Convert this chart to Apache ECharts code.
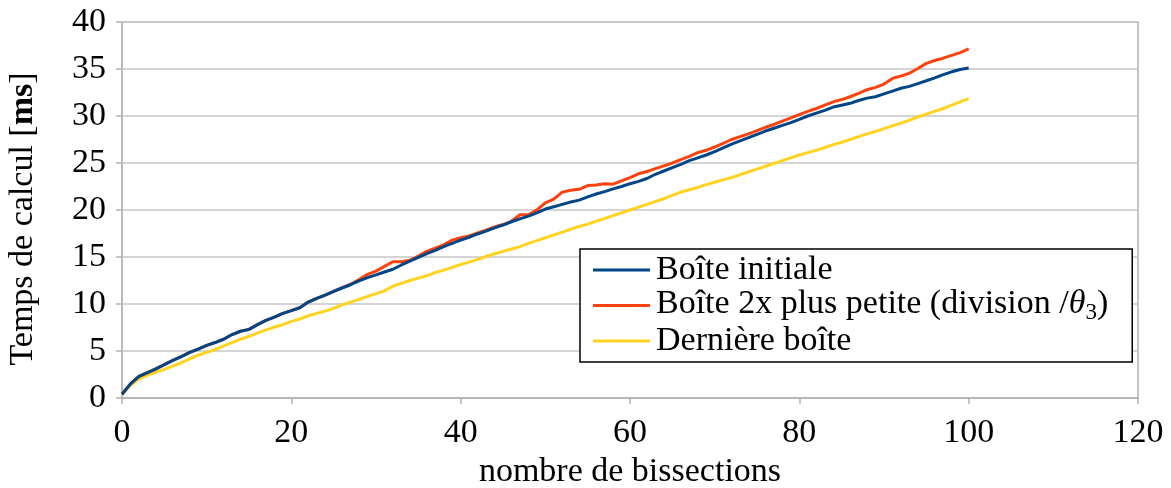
<!DOCTYPE html>
<html>
<head>
<meta charset="utf-8">
<script src="https://cdn.jsdelivr.net/npm/echarts@6/dist/echarts.min.js"></script>
<style>
  html, body { margin: 0; padding: 0; background: #fff; }
  #chart { width: 1171px; height: 488px; }
</style>
</head>
<body>
<div id="chart"></div>
<script>
// Number of bisections (0 .. 100)
const bissections = Array.from({ length: 101 }, (_, i) => i);

// Computation time in ms for each strategy
const boiteInitiale = [
  0.4, 1.5, 2.3, 2.7, 3.1, 3.55, 4.0, 4.4, 4.85, 5.2,
  5.6, 5.9, 6.25, 6.75, 7.1, 7.3, 7.8, 8.25, 8.6, 9.0,
  9.3, 9.6, 10.2, 10.6, 10.95, 11.35, 11.7, 12.05, 12.45, 12.8,
  13.1, 13.4, 13.7, 14.15, 14.55, 14.95, 15.35, 15.7, 16.1, 16.45,
  16.8, 17.1, 17.45, 17.75, 18.1, 18.4, 18.75, 19.05, 19.35, 19.7,
  20.1, 20.35, 20.6, 20.85, 21.05, 21.4, 21.7, 21.95, 22.25, 22.5,
  22.8, 23.05, 23.35, 23.8, 24.15, 24.5, 24.85, 25.25, 25.55, 25.85,
  26.2, 26.6, 27.0, 27.35, 27.7, 28.05, 28.4, 28.7, 29.0, 29.3,
  29.65, 30.0, 30.3, 30.6, 30.95, 31.15, 31.35, 31.65, 31.9, 32.05,
  32.35, 32.65, 32.95, 33.15, 33.45, 33.75, 34.05, 34.4, 34.7, 34.95,
  35.1
];
const boiteDeuxFoisPlusPetite = [
  0.4, 1.5, 2.3, 2.7, 3.1, 3.55, 4.0, 4.4, 4.85, 5.2,
  5.6, 5.9, 6.25, 6.75, 7.1, 7.3, 7.8, 8.25, 8.6, 9.0,
  9.3, 9.6, 10.2, 10.6, 10.95, 11.35, 11.75, 12.1, 12.6, 13.15,
  13.5, 14.0, 14.5, 14.5, 14.65, 15.1, 15.6, 15.95, 16.3, 16.8,
  17.05, 17.25, 17.55, 17.85, 18.2, 18.45, 18.8, 19.5, 19.5, 20.0,
  20.75, 21.15, 21.9, 22.1, 22.2, 22.6, 22.65, 22.8, 22.75, 23.1,
  23.45, 23.85, 24.1, 24.4, 24.7, 25.0, 25.35, 25.7, 26.1, 26.35,
  26.7, 27.1, 27.5, 27.8, 28.1, 28.45, 28.8, 29.1, 29.45, 29.8,
  30.15, 30.5, 30.8, 31.15, 31.5, 31.75, 32.05, 32.4, 32.8, 33.05,
  33.4, 34.0, 34.25, 34.55, 35.05, 35.6, 35.9, 36.15, 36.45, 36.75,
  37.15
];
const derniereBoite = [
  0.4, 1.35, 2.05, 2.4, 2.75, 3.05, 3.4, 3.75, 4.15, 4.55,
  4.85, 5.15, 5.55, 5.9, 6.25, 6.55, 6.9, 7.25, 7.55, 7.8,
  8.15, 8.4, 8.75, 9.0, 9.25, 9.55, 9.9, 10.2, 10.5, 10.8,
  11.1, 11.4, 11.9, 12.2, 12.5, 12.75, 13.0, 13.35, 13.6, 13.9,
  14.2, 14.45, 14.75, 15.05, 15.35, 15.6, 15.85, 16.1, 16.45, 16.75,
  17.05, 17.35, 17.65, 17.95, 18.25, 18.5, 18.8, 19.1, 19.4, 19.7,
  20.0, 20.3, 20.6, 20.9, 21.2, 21.55, 21.9, 22.15, 22.4, 22.7,
  22.95, 23.2, 23.45, 23.75, 24.05, 24.35, 24.65, 24.95, 25.25, 25.55,
  25.85, 26.1, 26.35, 26.65, 26.95, 27.2, 27.5, 27.8, 28.1, 28.35,
  28.65, 28.95, 29.25, 29.55, 29.9, 30.2, 30.5, 30.8, 31.15, 31.5,
  31.85
];

const seriesNames = ['Boîte initiale', 'Boîte 2x plus petite (division /θ3)', 'Dernière boîte'];

const FONT = 'Liberation Serif';
const FS = 34;
const AXIS_GREY = '#b3b3b3';
const pairs = (ys) => bissections.map((x, i) => [x, ys[i]]);

const chart = echarts.init(document.getElementById('chart'), null, { renderer: 'canvas' });

const lineSeries = (name, ys, color, z) => ({
  name,
  type: 'line',
  data: pairs(ys),
  showSymbol: false,
  symbol: 'none',
  z,
  lineStyle: { color, width: 3 },
  itemStyle: { color },
  emphasis: { disabled: true },
  animation: false
});

chart.setOption({
  animation: false,
  textStyle: { fontFamily: FONT, color: '#000' },
  grid: {
    left: 122, right: 33, top: 22, bottom: 90,
    containLabel: false, outerBoundsMode: 'none',
    show: true, borderColor: AXIS_GREY, borderWidth: 1.5, backgroundColor: 'transparent'
  },
  xAxis: {
    type: 'value',
    min: 0, max: 120, interval: 20,
    name: 'nombre de bissections',
    nameLocation: 'middle',
    nameGap: 52,
    nameTextStyle: { fontFamily: FONT, fontSize: FS, color: '#000' },
    axisLine: { show: true, lineStyle: { color: AXIS_GREY, width: 1.5 } },
    axisTick: { show: true, length: 6, lineStyle: { color: AXIS_GREY, width: 1.5 } },
    axisLabel: { fontFamily: FONT, fontSize: FS, color: '#000', margin: 18 },
    splitLine: { show: false }
  },
  yAxis: {
    type: 'value',
    min: 0, max: 40, interval: 5,
    name: '{n|Temps de calcul [}{b|ms}{n|]}',
    nameLocation: 'middle',
    nameRotate: 90,
    nameGap: 82,
    nameTextStyle: {
      padding: [0, 18, 0, 0],
      rich: {
        n: { fontFamily: FONT, fontSize: FS, color: '#000' },
        b: { fontFamily: FONT, fontSize: FS, fontWeight: 'bold', color: '#000' }
      }
    },
    axisLine: { show: true, lineStyle: { color: AXIS_GREY, width: 1.5 } },
    axisTick: { show: true, length: 6, lineStyle: { color: AXIS_GREY, width: 1.5 } },
    axisLabel: { fontFamily: FONT, fontSize: FS, color: '#000', margin: 16 },
    splitLine: { show: true, lineStyle: { color: '#c6c6c6', width: 1.5 } }
  },
  legend: {
    data: seriesNames,
    orient: 'vertical',
    left: 580,
    top: 249,
    padding: [4, 24, 4, 13],
    itemGap: 0,
    itemWidth: 57,
    itemHeight: 3,
    icon: 'rect',
    backgroundColor: '#fff',
    borderColor: '#000',
    borderWidth: 1.5,
    borderRadius: 0,
    selectedMode: false,
    formatter: (name) => name === seriesNames[1]
      ? '{t|Boîte 2x plus petite (division /}{it|θ}{sub|3}{t|)}'
      : name,
    textStyle: {
      fontFamily: FONT, fontSize: FS, color: '#000', padding: [0, 0, 0, 1],
      rich: {
        t: { fontFamily: FONT, fontSize: FS, color: '#000', verticalAlign: 'bottom', padding: [0, 0, 3, 0] },
        it: { fontFamily: FONT, fontSize: FS, fontStyle: 'italic', color: '#000', verticalAlign: 'bottom', padding: [0, 0, 3, 0] },
        sub: { fontFamily: FONT, fontSize: 23, color: '#000', verticalAlign: 'bottom' }
      }
    }
  },
  series: [
    lineSeries(seriesNames[2], derniereBoite, '#ffd320', 2),
    lineSeries(seriesNames[1], boiteDeuxFoisPlusPetite, '#ff420e', 3),
    lineSeries(seriesNames[0], boiteInitiale, '#004586', 4)
  ]
});
</script>
</body>
</html>
